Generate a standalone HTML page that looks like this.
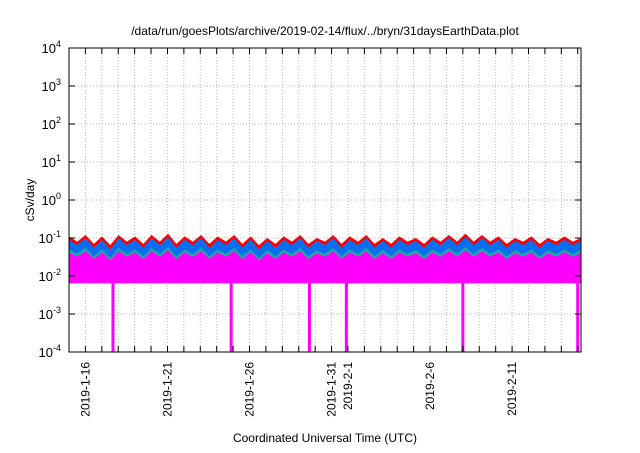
<!DOCTYPE html>
<html><head><meta charset="utf-8"><style>
body{margin:0;background:#fff;font-family:"Liberation Sans",sans-serif}
svg text{font-family:"Liberation Sans",sans-serif;fill:#000}
</style></head><body>
<svg id="c" width="640" height="448" xmlns="http://www.w3.org/2000/svg">
<rect width="640" height="448" fill="#fff"/>
<text x="325" y="35" font-size="12" text-anchor="middle">/data/run/goesPlots/archive/2019-02-14/flux/../bryn/31daysEarthData.plot</text>
<text transform="translate(34,200) rotate(-90)" font-size="12" text-anchor="middle">cSv/day</text>
<text x="325" y="442" font-size="12" text-anchor="middle">Coordinated Universal Time (UTC)</text>
<g id="grid"></g><g id="series"></g><g id="axes"></g>
</svg>
<script>
const yDecades=[-4,-3,-2,-1,0,1,2,3,4];
const xTickLabels=["2019-1-16","2019-1-21","2019-1-26","2019-1-31","2019-2-1","2019-2-6","2019-2-11"];
const xTickDays=[1,6,11,16,17,22,27];
const red=[0.11,0.08,0.12,0.07,0.11,0.065,0.12,0.08,0.11,0.07,0.12,0.08,0.13,0.07,0.11,0.08,0.12,0.07,0.11,0.08,0.12,0.07,0.11,0.065,0.10,0.07,0.11,0.08,0.12,0.07,0.10,0.08,0.12,0.07,0.11,0.08,0.12,0.07,0.10,0.07,0.11,0.08,0.10,0.07,0.11,0.08,0.12,0.08,0.13,0.08,0.12,0.08,0.11,0.07,0.10,0.08,0.11,0.07,0.10,0.08,0.11,0.08,0.10];
const blue=[0.09,0.065,0.10,0.055,0.09,0.05,0.10,0.065,0.09,0.055,0.10,0.065,0.105,0.055,0.09,0.065,0.10,0.055,0.09,0.065,0.10,0.055,0.09,0.05,0.085,0.055,0.09,0.065,0.10,0.055,0.085,0.065,0.10,0.055,0.09,0.065,0.10,0.055,0.085,0.055,0.09,0.065,0.085,0.055,0.09,0.065,0.10,0.065,0.105,0.065,0.10,0.065,0.09,0.055,0.085,0.065,0.09,0.055,0.085,0.065,0.09,0.065,0.085];
const teal=[0.05,0.038,0.055,0.033,0.05,0.03,0.055,0.038,0.05,0.033,0.055,0.038,0.058,0.033,0.05,0.038,0.055,0.033,0.05,0.038,0.055,0.033,0.05,0.03,0.048,0.033,0.05,0.038,0.055,0.033,0.048,0.038,0.055,0.033,0.05,0.038,0.055,0.033,0.048,0.033,0.05,0.038,0.048,0.033,0.05,0.038,0.055,0.038,0.058,0.038,0.055,0.038,0.05,0.033,0.048,0.038,0.05,0.033,0.048,0.038,0.05,0.038,0.048];
const magentaTop=[0.042,0.032,0.045,0.028,0.042,0.026,0.045,0.032,0.042,0.028,0.045,0.032,0.048,0.028,0.042,0.032,0.045,0.028,0.042,0.032,0.045,0.028,0.042,0.026,0.04,0.028,0.042,0.032,0.045,0.028,0.04,0.032,0.045,0.028,0.042,0.032,0.045,0.028,0.04,0.028,0.042,0.032,0.04,0.028,0.042,0.032,0.045,0.032,0.048,0.032,0.045,0.032,0.042,0.028,0.04,0.032,0.042,0.028,0.04,0.032,0.042,0.032,0.04];
const magentaBottom=0.0065;
const dropoutDays=[2.68,9.88,14.65,16.9,24.0,31.0];
const totalDays=31.2;
const L=69,R=581,T=48,B=352;
const NS="http://www.w3.org/2000/svg";
const xs=d=>L+(R-L)*d/totalDays;
const ys=v=>T+(B-T)*(4-Math.log10(v))/8;
function mk(tag,attrs,parent){const e=document.createElementNS(NS,tag);for(const k in attrs)e.setAttribute(k,attrs[k]);parent.appendChild(e);return e;}
const grid=document.getElementById('grid'),ser=document.getElementById('series'),ax=document.getElementById('axes');
for(let d=1;d<totalDays;d++){const l=mk('line',{x1:xs(d),x2:xs(d),y1:T,y2:B,stroke:'#bbb','stroke-dasharray':'1,2'},grid);
}
yDecades.forEach(p=>{const y=ys(Math.pow(10,p));
if(p>-4&&p<4){const l=mk('line',{x1:L,x2:R,y1:y,y2:y,stroke:'#bbb','stroke-dasharray':'1,2'},grid);}
const t=mk('text',{x:L-8,y:y+5,'font-size':'13','text-anchor':'end'},ax);

t.appendChild(document.createTextNode('10'));const s=mk('tspan',{dy:'-6','font-size':'9'},t);s.textContent=String(p);
mk('line',{x1:L,x2:L+6,y1:y,y2:y,stroke:'#000'},ax);mk('line',{x1:R,x2:R-6,y1:y,y2:y,stroke:'#000'},ax);});
function area(top,bot,color,name){const n=top.length;let pts=[];
for(let i=0;i<n;i++){pts.push(xs(i*totalDays/(n-1))+','+ys(top[i]));}
for(let i=n-1;i>=0;i--){const b=Array.isArray(bot)?bot[i]:bot;pts.push(xs(i*totalDays/(n-1))+','+ys(b));}
const p=mk('polygon',{points:pts.join(' '),fill:color},ser);}
area(red,magentaBottom,'#ff0000','series-red');
area(blue,magentaBottom,'#0a6ef0','series-blue');
area(teal,magentaBottom,'#20a8a0','series-teal');
area(magentaTop,magentaBottom,'#ff00ff','series-magenta');
dropoutDays.forEach(d=>{const r=mk('rect',{x:xs(d)-1.5,y:ys(magentaBottom),width:3,height:B-ys(magentaBottom),fill:'#ff00ff'},ser);
});
for(let d=1;d<totalDays;d++){mk('line',{x1:xs(d),x2:xs(d),y1:B,y2:B-6,stroke:'#000'},ax);mk('line',{x1:xs(d),x2:xs(d),y1:T,y2:T+6,stroke:'#000'},ax);}
xTickLabels.forEach((lab,i)=>{const x=xs(xTickDays[i]);
const t=mk('text',{transform:'translate('+(x+4)+',362) rotate(-90)','font-size':'12','text-anchor':'end'},ax);
t.textContent=lab;});
const f=mk('rect',{x:L,y:T,width:R-L,height:B-T,fill:'none',stroke:'#000','stroke-width':'1'},ax);

</script>
</body></html>
